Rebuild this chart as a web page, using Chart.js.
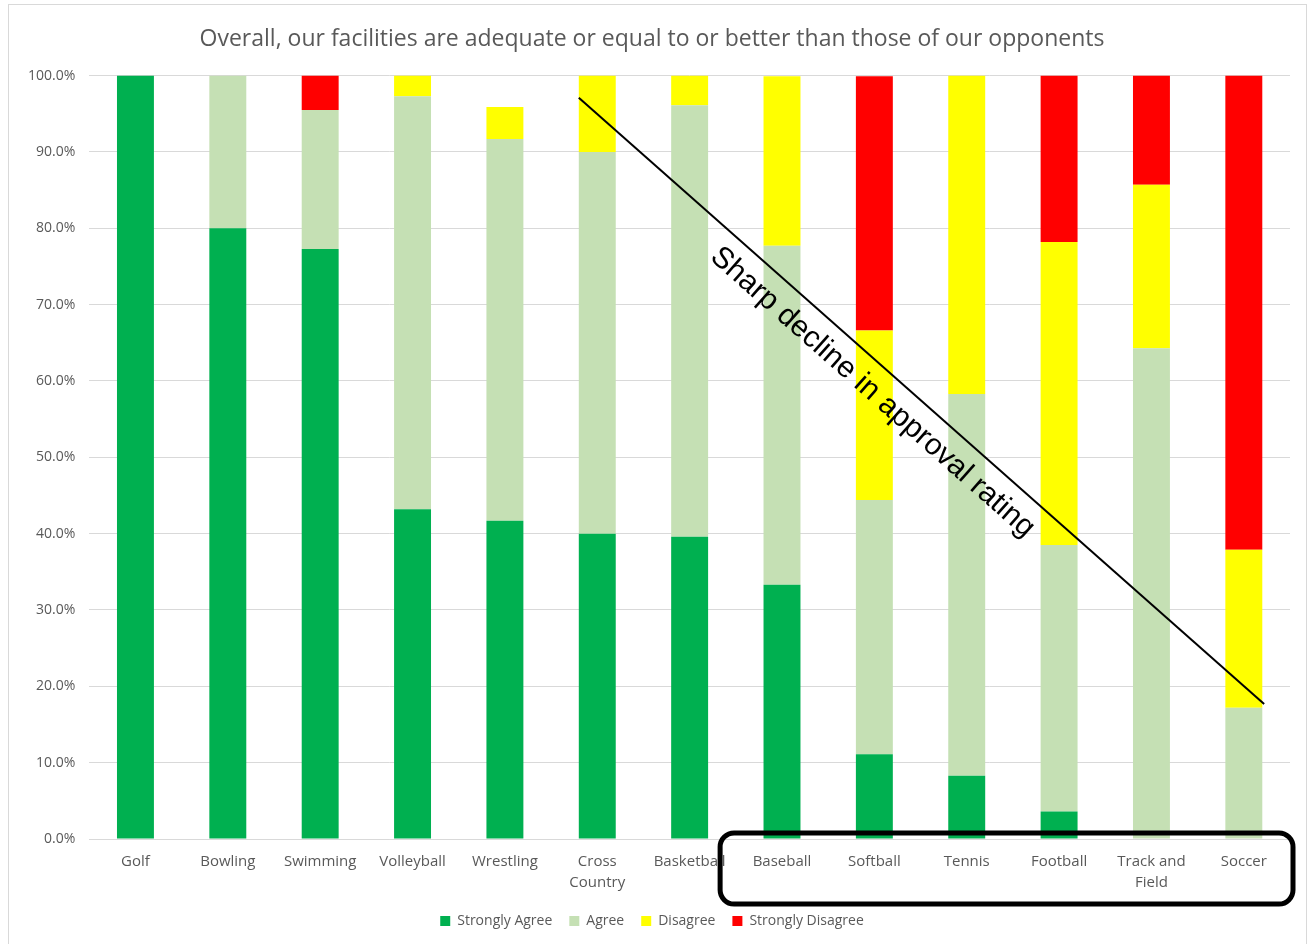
<!DOCTYPE html>
<html>
<head>
<meta charset="utf-8">
<script src="https://cdn.jsdelivr.net/npm/chart.js@4.4.1/dist/chart.umd.min.js"></script>
<style>
  html, body { margin: 0; padding: 0; background: #fff; }
  #wrap { position: relative; width: 1316px; height: 944px; }
  #frame { position: absolute; left: 8px; top: 4px; width: 1297px; height: 960px; border: 1px solid #d9d9d9; pointer-events: none; }
</style>
</head>
<body>
<div id="wrap">
  <canvas id="bar" width="1316" height="944"></canvas>
  <div id="frame"></div>
</div>
<script>
const sports = ["Golf", "Bowling", "Swimming", "Volleyball", "Wrestling", ["Cross", "Country"], "Basketball",
                "Baseball", "Softball", "Tennis", "Football", ["Track and", "Field"], "Soccer"];
const stronglyAgree    = [100, 80, 77.3, 43.2, 41.7, 40, 39.6, 33.3, 11.1, 8.3, 3.6, 0, 0];
const agree            = [0, 20, 18.2, 54.1, 50.0, 50, 56.5, 44.4, 33.3, 50.0, 34.9, 64.3, 17.2];
const disagree         = [0, 0, 0, 2.7, 4.2, 10, 3.9, 22.2, 22.2, 41.7, 39.7, 21.4, 20.7];
const stronglyDisagree = [0, 0, 4.5, 0, 0, 0, 0, 0, 33.3, 0, 21.8, 14.3, 62.1];
const yTicks = [0, 10, 20, 30, 40, 50, 60, 70, 80, 90, 100];

const textGrey = '#595959';

// annotation line + note, and the box round the last six labels
const notePlugin = {
    id: 'note',
    afterDraw(chart)
    {
        const ctx = chart.ctx;
        const x = chart.scales.x;
        const y = chart.scales.y;
        const area = chart.chartArea;

        const x1 = x.getPixelForValue(4.8), y1 = y.getPixelForValue(97.1);
        const x2 = x.getPixelForValue(12.22), y2 = y.getPixelForValue(17.7);
        ctx.save();
        ctx.strokeStyle = '#000';
        ctx.lineWidth = 2;
        ctx.beginPath();
        ctx.moveTo(x1, y1);
        ctx.lineTo(x2, y2);
        ctx.stroke();

        const angle = Math.atan2(y2 - y1, x2 - x1);
        ctx.translate(x.getPixelForValue(7.98), y.getPixelForValue(58.5));
        ctx.rotate(angle);
        ctx.fillStyle = '#000';
        ctx.font = '30px "Liberation Sans", Arial, sans-serif';
        ctx.textAlign = 'center';
        ctx.textBaseline = 'middle';
        ctx.fillText('Sharp decline in approval rating', 0, 0);
        ctx.restore();

        // rounded box
        const bx = x.getPixelForValue(6.33);
        const bw = area.right + 3 - bx;
        const by = area.bottom - 6;
        const bh = 71;
        ctx.save();
        ctx.strokeStyle = '#000';
        ctx.lineWidth = 5;
        ctx.beginPath();
        ctx.roundRect(bx, by, bw, bh, 14);
        ctx.stroke();
        ctx.restore();
    }
};

const ctx = document.getElementById('bar').getContext('2d');
new Chart(ctx, {
    type: 'bar',
    data: {
        labels: sports,
        datasets: [
            { label: 'Strongly Agree', data: stronglyAgree, backgroundColor: '#00b050' },
            { label: 'Agree', data: agree, backgroundColor: '#c5e0b4' },
            { label: 'Disagree', data: disagree, backgroundColor: '#ffff00' },
            { label: 'Strongly Disagree', data: stronglyDisagree, backgroundColor: '#ff0000' }
        ]
    },
    options: {
        responsive: false,
        animation: false,
        layout: { padding: { left: 14, right: 26, top: 26, bottom: 6 } },
        datasets: { bar: { barPercentage: 0.4, categoryPercentage: 1 } },
        plugins: {
            title: {
                display: true,
                text: 'Overall, our facilities are adequate or equal to or better than those of our opponents',
                color: textGrey,
                font: { family: '"Open Sans", sans-serif', size: 23, weight: 'normal' },
                padding: { top: 0, bottom: 22 }
            },
            legend: {
                position: 'bottom',
                labels: {
                    color: textGrey,
                    boxWidth: 10,
                    boxHeight: 10,
                    padding: 17,
                    font: { family: '"Open Sans", sans-serif', size: 14 }
                }
            },
            tooltip: { enabled: false }
        },
        scales: {
            x: {
                stacked: true,
                grid: { display: false },
                border: { color: '#d9d9d9' },
                ticks: {
                    color: textGrey,
                    maxRotation: 0,
                    autoSkip: false,
                    padding: 4,
                    font: { family: '"Open Sans", sans-serif', size: 15, lineHeight: 1.4 }
                }
            },
            y: {
                stacked: true,
                min: 0,
                max: 100,
                afterBuildTicks: (axis) => { axis.ticks = yTicks.map(v => ({ value: v })); },
                grid: { color: '#d9d9d9', drawTicks: false },
                border: { display: false },
                ticks: {
                    color: textGrey,
                    padding: 14,
                    font: { family: '"Open Sans", sans-serif', size: 14 },
                    callback: (v) => v.toFixed(1) + '%'
                }
            }
        }
    },
    plugins: [notePlugin]
});
</script>
</body>
</html>
